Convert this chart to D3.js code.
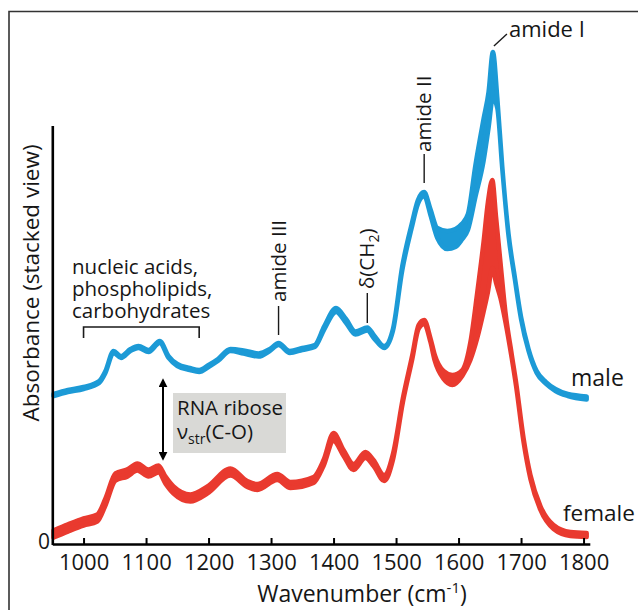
<!DOCTYPE html>
<html>
<head>
<meta charset="utf-8">
<script src="https://cdn.jsdelivr.net/npm/d3@7"></script>
<style>
  body { margin: 0; background: #fff; }
  text { font-family: "Open Sans", sans-serif; fill: #161616; }
</style>
</head>
<body>
<svg id="chart" width="638" height="610"></svg>
<script>
// wavenumbers (cm-1) and absorbance, stacked view (arbitrary units)
const wnMale = [952, 975, 1000, 1025, 1035, 1048, 1060, 1075, 1088, 1104, 1122, 1136, 1150, 1170, 1185, 1200, 1215, 1235,
    1256, 1280, 1298, 1312, 1330, 1350, 1370, 1385, 1404, 1420, 1435, 1454, 1465, 1481, 1495,
    1510, 1525, 1535, 1545, 1555, 1566, 1582, 1595, 1605, 1615, 1627, 1640, 1648, 1655, 1662, 1670,
    1680, 1690, 1700, 1712, 1725, 1740, 1755, 1775, 1805];
const maleMean = [37.25, 38.25, 39, 40.5, 43, 48, 46.75, 48.5, 49.25, 48.25, 50.5, 46.75, 44.75, 43.75, 43.25, 44.5, 46, 48.5,
    48, 47.25, 48.5, 50, 48, 48.75, 49.5, 54, 58.5, 55.75, 52.75, 53.75, 51.75, 49.25, 53.5,
    69, 79.5, 85.5, 87.5, 83, 77.75, 76, 76.5, 78, 80.5, 90.75, 101, 108.5, 117.25, 110.25, 94,
    77.25, 66.5, 56.5, 48.5, 43, 40.25, 38.5, 37.25, 36.5];
const maleSpread = [.25, .25, .25, .25, .25, .25, .25, .25, .25, .25, .25, .25, .25, .25, .25, .25, .25, .25,
    .4, .4, .25, .25, .25, .25, .25, .4, .5, .5, .4, .4, .4, .25, .25,
    .5, .5, .5, .5, .75, 1.25, 2.25, 2.25, 2, 2, 4, 5.25, 4.5, 5.75, 1.25, .25,
    .25, .25, .25, .25, .25, .25, .25, .25, .4];

const wnFemale = [952, 975, 1000, 1022, 1035, 1051, 1070, 1086, 1104, 1120, 1131, 1144, 1171, 1198, 1235,
    1262, 1278, 1310, 1331, 1368, 1384, 1400, 1416, 1432, 1451, 1464, 1481, 1495,
    1511, 1526, 1536, 1545, 1555, 1562, 1576, 1590, 1606, 1619, 1630, 1640, 1647, 1654, 1660, 1667, 1675, 1685, 1692,
    1704, 1715, 1731, 1752, 1779, 1805];
const femaleMean = [2.5, 4, 5.5, 6.5, 10.5, 16.75, 17.75, 19.25, 17.75, 18.75, 16, 13.5, 11.5, 13.5, 18,
    15, 14.25, 16.75, 14.75, 16, 20.25, 26.75, 22.75, 19.25, 22.25, 20.25, 16.5, 21.75,
    36, 46.75, 54.25, 55.5, 51, 46.5, 42.25, 41, 42.75, 48.25, 57.25, 66.75, 74.25, 80, 73.5, 66, 56.75, 47, 40,
    26, 16.75, 9, 4.25, 2.5, 2.25];
const femaleSpread = [.9, .9, .9, .9, .9, .9, .9, .9, .9, .9, .9, .9, .9, .9, .9,
    .75, .75, .75, .75, .75, .75, 1, .75, .75, .75, .75, .75, .75,
    .5, .5, .5, .5, .5, .75, 1, 1.25, .75, 2.25, 5.75, 8.75, 11.25, 11, 8.25, 4.5, 1.25, .5, .5,
    .5, .5, .5, .5, .5, .5];

const xTicks = [1000, 1100, 1200, 1300, 1400, 1500, 1600, 1700, 1800];

const blue = "#1c9ad6", red = "#e93a2f";

const svg = d3.select("#chart");

// frame (top and left only)
svg.append("path").attr("d", "M9,610V11.5H638").attr("fill", "none").attr("stroke", "#333").attr("stroke-width", 1.6);

const x = d3.scaleLinear().domain([950, 1810]).range([52.3, 589.8]);
const y = d3.scaleLinear().domain([0, 130]).range([544, 24]);

function band(wn, mean, spread, color) {
    const rows = wn.map((w, i) => ({ w: w, m: mean[i], s: spread[i] }));
    const area = d3.area()
        .x(d => x(d.w))
        .y0(d => y(d.m - d.s))
        .y1(d => y(d.m + d.s))
        .curve(d3.curveMonotoneX);
    svg.append("path").datum(rows).attr("d", area)
        .attr("fill", color).attr("stroke", color)
        .attr("stroke-width", 4.5).attr("stroke-linejoin", "round");
}
band(wnFemale, femaleMean, femaleSpread, red);
band(wnMale, maleMean, maleSpread, blue);

// axes
const xAxis = svg.append("g").attr("transform", `translate(0,${y(0)})`)
    .call(d3.axisBottom(x).tickValues(xTicks).tickFormat(d3.format("d"))
        .tickSizeInner(-6).tickSizeOuter(0).tickPadding(10));
xAxis.select(".domain").attr("stroke", "#000").attr("stroke-width", 2.6);
xAxis.selectAll(".tick line").attr("stroke", "#000").attr("stroke-width", 2);
xAxis.selectAll(".tick text").style("font-family", "Open Sans").style("font-size", "22px").attr("fill", "#161616");

svg.append("line").attr("x1", x(950) + 0.5).attr("x2", x(950) + 0.5).attr("y1", y(0) + 1).attr("y2", y(104.5))
    .attr("stroke", "#000").attr("stroke-width", 2.6);
svg.append("text").attr("x", 50).attr("y", 549).attr("text-anchor", "end").style("font-size", "21px").text("0");

svg.append("text").attr("text-anchor", "middle").attr("transform", "translate(31,283) rotate(-90)")
    .attr("dy", "0.35em").style("font-size", "22.5px").text("Absorbance (stacked view)");

const xt = svg.append("text").attr("x", 362).attr("y", 602).attr("text-anchor", "middle").style("font-size", "23px");
xt.append("tspan").text("Wavenumber (cm");
xt.append("tspan").attr("dy", -9).style("font-size", "15px").text("-1");
xt.append("tspan").attr("dy", 9).text(")");

// labels for series
svg.append("text").attr("x", 571).attr("y", 386).style("font-size", "23px").text("male");
svg.append("text").attr("x", 563).attr("y", 521).style("font-size", "22.5px").text("female");

// bracket over the fingerprint region
const bx0 = x(1000), bx1 = x(1185);
svg.append("path").attr("d", `M${bx0},338V327H${bx1}V338`).attr("fill", "none").attr("stroke", "#1a1a1a").attr("stroke-width", 1.6);
const na = svg.append("text").attr("x", 72).style("font-size", "20.5px");
["nucleic acids,", "phospholipids,", "carbohydrates"].forEach((t, i) => {
    na.append("tspan").attr("x", 72).attr("y", 274 + i * 22).text(t);
});

// peak markers
function marker(wn, yText, yLineTop, yLineBottom, build) {
    const px = x(wn);
    svg.append("line").attr("x1", px).attr("x2", px).attr("y1", yLineTop).attr("y2", yLineBottom)
        .attr("stroke", "#1a1a1a").attr("stroke-width", 1.4);
    const t = svg.append("text").attr("transform", `translate(${px},${yText}) rotate(-90)`)
        .attr("dy", "0.35em").style("font-size", "20.5px");
    build(t);
}
marker(1312, 302, 306, 335, t => t.text("amide III"));
marker(1454, 289, 293, 323, t => {
    t.append("tspan").text("δ(CH");
    t.append("tspan").attr("dy", 5).style("font-size", "14px").text("2");
    t.append("tspan").attr("dy", -5).text(")");
});
marker(1545, 152, 154, 183, t => t.text("amide II"));

svg.append("line").attr("x1", x(1655) + 1).attr("y1", 46).attr("x2", x(1655) + 14).attr("y2", 34)
    .attr("stroke", "#1a1a1a").attr("stroke-width", 1.4);
svg.append("text").attr("x", 509).attr("y", 37).style("font-size", "22px").text("amide I");

// RNA ribose box and double arrow
svg.append("rect").attr("x", 173).attr("y", 393).attr("width", 113).attr("height", 60).attr("fill", "#d9d9d6");
svg.append("text").attr("x", 177).attr("y", 415).style("font-size", "20.5px").text("RNA ribose");
const nu = svg.append("text").attr("x", 177).attr("y", 439).style("font-size", "20.5px");
nu.append("tspan").text("ν");
nu.append("tspan").attr("dy", 5).style("font-size", "14px").text("str");
nu.append("tspan").attr("dy", -5).text("(C-O)");

const defs = svg.append("defs");
defs.append("marker").attr("id", "head").attr("viewBox", "0 0 10 10").attr("refX", 8).attr("refY", 5)
    .attr("markerWidth", 4.5).attr("markerHeight", 4.5).attr("orient", "auto-start-reverse")
    .append("path").attr("d", "M0,0L10,5L0,10z").attr("fill", "#000");
svg.append("line").attr("x1", 163).attr("x2", 163).attr("y1", 380).attr("y2", 459)
    .attr("stroke", "#000").attr("stroke-width", 2)
    .attr("marker-start", "url(#head)").attr("marker-end", "url(#head)");
</script>
</body>
</html>
